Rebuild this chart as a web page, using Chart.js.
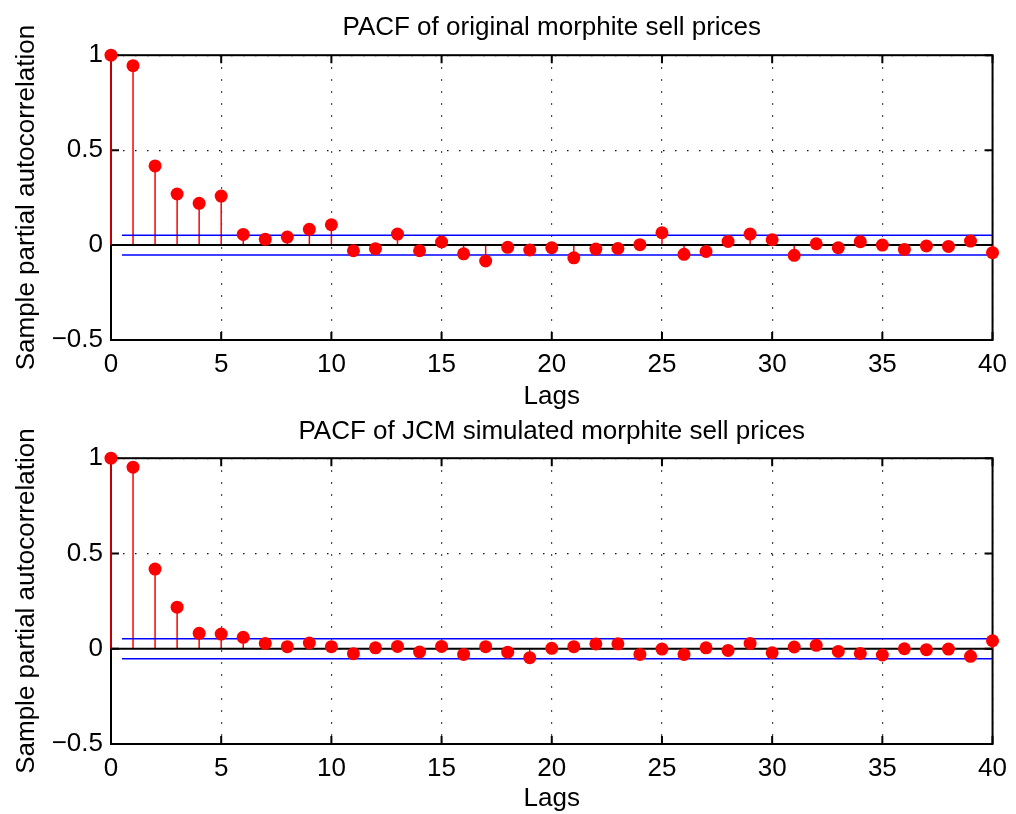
<!DOCTYPE html>
<html>
<head>
<meta charset="utf-8">
<script src="https://cdn.jsdelivr.net/npm/chart.js@4.4.1/dist/chart.umd.min.js"></script>
<style>
  html, body { margin: 0; padding: 0; background: #fff; }
  #wrap { position: relative; width: 1016px; height: 814px; overflow: hidden; }
  canvas { position: absolute; left: 0; }
</style>
</head>
<body>
<div id="wrap">
  <canvas id="pacfOrig" width="1016" height="415" style="top:0"></canvas>
  <canvas id="pacfSim" width="1016" height="414" style="top:400px"></canvas>
</div>
<script>
// lags 0..40
const lags = [0, 1, 2, 3, 4, 5, 6, 7, 8, 9, 10, 11, 12, 13, 14, 15, 16, 17, 18, 19, 20,
              21, 22, 23, 24, 25, 26, 27, 28, 29, 30, 31, 32, 33, 34, 35, 36, 37, 38, 39, 40];

// PACF of original sell prices
const pacfOriginal = [1, 0.945, 0.417, 0.269, 0.22, 0.258, 0.056, 0.03, 0.042, 0.083, 0.107,
                      -0.03, -0.019, 0.058, -0.03, 0.016, -0.046, -0.084, -0.012, -0.026, -0.014,
                      -0.067, -0.021, -0.018, 0.002, 0.065, -0.049, -0.034, 0.019, 0.058, 0.028,
                      -0.054, 0.007, -0.014, 0.018, 0, -0.023, -0.005, -0.007, 0.021, -0.04];

// PACF of JCM simulated sell prices
const pacfSimulated = [1, 0.953, 0.418, 0.218, 0.081, 0.077, 0.06, 0.028, 0.011, 0.03, 0.011,
                       -0.026, 0.005, 0.012, -0.017, 0.012, -0.03, 0.011, -0.018, -0.047, 0.002,
                       0.011, 0.025, 0.026, -0.03, -0.002, -0.03, 0.005, -0.009, 0.028, -0.021,
                       0.009, 0.018, -0.014, -0.025, -0.033, 0, -0.005, -0.002, -0.04, 0.042];

// approx. 95% confidence bounds, drawn from lag 0.5 to 40
const bound = 0.052;
const boundRange = [0.5, 40];

const xTicks = [0, 5, 10, 15, 20, 25, 30, 35, 40];
const yTicks = [-0.5, 0, 0.5, 1];

Chart.defaults.font.family = '"Liberation Sans", Arial, sans-serif';
Chart.defaults.font.size = 26;
Chart.defaults.color = '#000';

const fmtTick = v => (v < 0 ? '\u2212' + Math.abs(v) : String(v));

// axes box with inward tick marks (MATLAB style)
const boxPlugin = {
  id: 'box',
  beforeDatasetsDraw(chart) {
    const { ctx, chartArea: a, scales: { x, y } } = chart;
    ctx.save();
    ctx.strokeStyle = '#000';
    ctx.lineWidth = 2;
    ctx.strokeRect(a.left, a.top, a.right - a.left, a.bottom - a.top);
    ctx.beginPath();
    xTicks.forEach(v => {
      const px = x.getPixelForValue(v);
      ctx.moveTo(px, a.bottom); ctx.lineTo(px, a.bottom - 8);
      ctx.moveTo(px, a.top);    ctx.lineTo(px, a.top + 8);
    });
    yTicks.forEach(v => {
      const py = y.getPixelForValue(v);
      ctx.moveTo(a.left, py);  ctx.lineTo(a.left + 8, py);
      ctx.moveTo(a.right, py); ctx.lineTo(a.right - 8, py);
    });
    ctx.stroke();
    ctx.restore();
  }
};

function stemPoints(values) {
  const pts = [];
  values.forEach((v, i) => {
    pts.push({ x: lags[i], y: 0 }, { x: lags[i], y: v }, { x: lags[i], y: null });
  });
  return pts;
}

function makePacf(canvasId, title, values, titlePad, xHeight, xTitlePad) {
  new Chart(document.getElementById(canvasId), {
    type: 'line',
    data: {
      datasets: [
        {
          data: stemPoints(values),
          borderColor: '#ff0000',
          borderWidth: 1.5,
          pointRadius: 0,
          spanGaps: false,
          clip: false,
          order: 4
        },
        {
          data: boundRange.map(x => ({ x, y: bound })),
          borderColor: '#0000ff',
          borderWidth: 1.5,
          pointRadius: 0,
          order: 3
        },
        {
          data: boundRange.map(x => ({ x, y: -bound })),
          borderColor: '#0000ff',
          borderWidth: 1.5,
          pointRadius: 0,
          order: 3
        },
        {
          data: [{ x: lags[0], y: 0 }, { x: lags[lags.length - 1], y: 0 }],
          borderColor: '#000',
          borderWidth: 2,
          pointRadius: 0,
          order: 2
        },
        {
          data: values.map((v, i) => ({ x: lags[i], y: v })),
          showLine: false,
          pointRadius: 6.5,
          pointBackgroundColor: '#ff0000',
          pointBorderWidth: 0,
          clip: false,
          order: 1
        }
      ]
    },
    options: {
      responsive: false,
      animation: false,
      devicePixelRatio: 1,
      layout: { padding: { left: 0, right: 23, top: 0, bottom: 0 } },
      plugins: {
        legend: { display: false },
        tooltip: { enabled: false },
        title: {
          display: true,
          text: title,
          fullSize: false,
          color: '#000',
          font: { size: 26, weight: 'normal' },
          padding: titlePad
        }
      },
      events: [],
      scales: {
        x: {
          type: 'linear',
          min: 0,
          max: 40,
          afterFit: s => { s.height = xHeight; },
          afterBuildTicks: s => { s.ticks = xTicks.map(v => ({ value: v })); },
          ticks: { padding: 9, callback: fmtTick, maxRotation: 0 },
          grid: { color: '#111', lineWidth: 1.2, drawTicks: false },
          border: { display: false, dash: [1.5, 10.5] },
          title: { display: true, text: 'Lags', padding: { top: 0, bottom: xTitlePad } }
        },
        y: {
          min: -0.5,
          max: 1,
          afterFit: s => { s.width = 111; },
          afterBuildTicks: s => { s.ticks = yTicks.map(v => ({ value: v })); },
          ticks: { padding: 8, callback: fmtTick },
          grid: { color: '#111', lineWidth: 1.2, drawTicks: false },
          border: { display: false, dash: [1.5, 10.5] },
          title: { display: true, text: 'Sample partial autocorrelation', padding: { top: 11, bottom: 0 } }
        }
      }
    },
    plugins: [boxPlugin]
  });
}

makePacf('pacfOrig', 'PACF of original morphite sell prices', pacfOriginal,
         { top: 12, bottom: 12 }, 75, 3);
makePacf('pacfSim', 'PACF of JCM simulated morphite sell prices', pacfSimulated,
         { top: 16, bottom: 11 }, 70, 0);
</script>
</body>
</html>
